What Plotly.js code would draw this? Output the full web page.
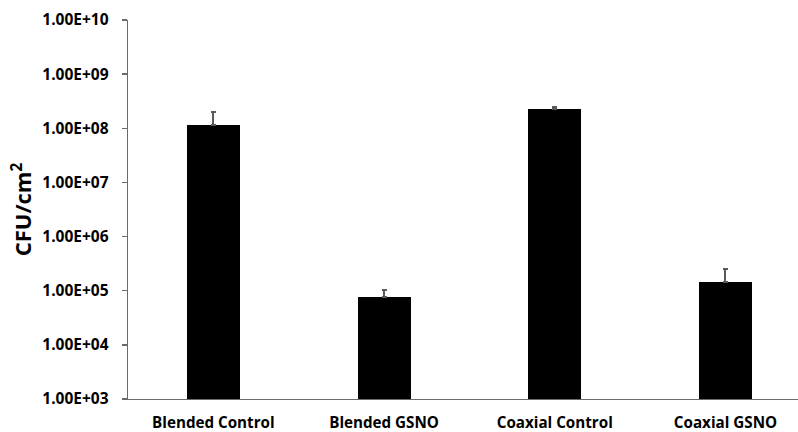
<!DOCTYPE html>
<html>
<head>
<meta charset="utf-8">
<script src="https://cdn.plot.ly/plotly-3.0.1.min.js"></script>
<style>html,body{margin:0;padding:0;background:#fff;}#chart{width:798px;height:432px;}</style>
</head>
<body>
<div id="chart"></div>
<script>
const categories = ["Blended Control", "Blended GSNO", "Coaxial Control", "Coaxial GSNO"];
const cfuValues = [1.14e8, 7.8e4, 2.32e8, 1.47e5];
const cfuErrors = [0.86e8, 2.5e4, 0.13e8, 1.0e5];
const tickValues = [1e3, 1e4, 1e5, 1e6, 1e7, 1e8, 1e9, 1e10];
const tickLabels = ["1.00E+03", "1.00E+04", "1.00E+05", "1.00E+06", "1.00E+07", "1.00E+08", "1.00E+09", "1.00E+10"];

const font = "Open Sans, Liberation Sans, sans-serif";

const trace = {
  type: "bar",
  x: [0, 1, 2, 3],
  y: cfuValues,
  width: 0.31,
  marker: {color: "#000000", line: {color: "#000000", width: 0}},
  error_y: {
    type: "data",
    symmetric: false,
    array: cfuErrors,
    arrayminus: cfuValues.map(() => 0),
    color: "#5a5a5a",
    thickness: 2,
    width: 2.5
  },
  hoverinfo: "none"
};

const layout = {
  width: 798,
  height: 432,
  margin: {l: 128, r: 0, t: 20, b: 33, pad: 0},
  paper_bgcolor: "#ffffff",
  plot_bgcolor: "#ffffff",
  showlegend: false,
  bargap: 0,
  xaxis: {
    range: [-0.5, 3.425],
    tickmode: "array",
    tickvals: [0, 1, 2, 3],
    ticktext: categories,
    showgrid: false,
    zeroline: false,
    showline: true,
    linecolor: "#6b6b6b",
    linewidth: 1.3,
    ticks: "",
    ticklabelstandoff: 9,
    tickfont: {family: font, size: 15.2, color: "#000000", weight: "bold"},
    fixedrange: true
  },
  yaxis: {
    type: "log",
    range: [3, 10],
    tickmode: "array",
    tickvals: tickValues,
    ticktext: tickLabels,
    showgrid: false,
    zeroline: false,
    showline: true,
    linecolor: "#6b6b6b",
    linewidth: 1.3,
    ticks: "outside",
    ticklen: 5,
    tickwidth: 1.3,
    tickcolor: "#6b6b6b",
    ticklabelstandoff: 10,
    tickfont: {family: font, size: 15.5, color: "#000000", weight: "bold"},
    title: {text: "CFU/cm<sup>2</sup>", font: {family: font, size: 22, color: "#000000", weight: "bold"}, standoff: 4},
    fixedrange: true
  }
};

Plotly.newPlot("chart", [trace], layout, {displayModeBar: false, staticPlot: true});
</script>
</body>
</html>
